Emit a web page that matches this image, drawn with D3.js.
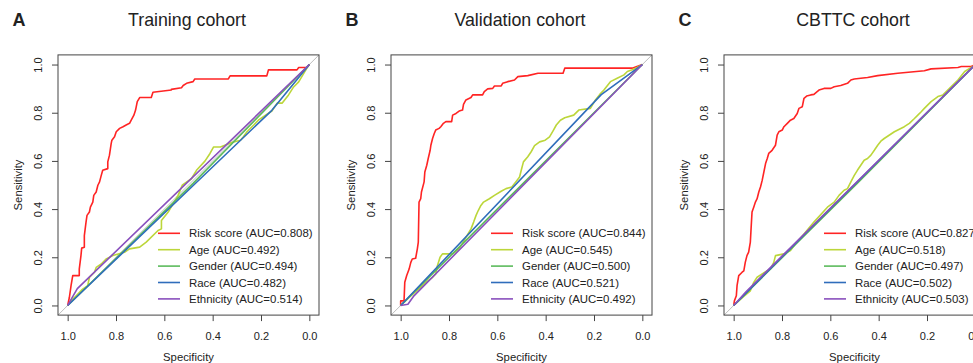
<!DOCTYPE html>
<html>
<head>
<meta charset="utf-8">
<script src="https://cdn.jsdelivr.net/npm/d3@7"></script>
<style>
  body { margin: 0; background: #fff; }
  text { font-family: "Liberation Sans", Arial, sans-serif; fill: #222; }
</style>
</head>
<body>
<svg id="chart"></svg>
<script>
// panel titles, letters, series
const titles = ["Training cohort", "Validation cohort", "CBTTC cohort"];
const letters = ["A", "B", "C"];
const seriesNames = ["Risk score", "Age", "Gender", "Race", "Ethnicity"];
const colors = ["#ff2424", "#bcd63a", "#5cba5c", "#2f6dbb", "#8950bd"];
const xTicks = [1.0, 0.8, 0.6, 0.4, 0.2, 0.0];
const yTicks = [0.0, 0.2, 0.4, 0.6, 0.8, 1.0];

const aucTrain = [0.808, 0.492, 0.494, 0.482, 0.514];
const aucValid = [0.844, 0.545, 0.500, 0.521, 0.492];
const aucCbttc = [0.827, 0.518, 0.497, 0.502, 0.503];

// ROC points as [specificity, sensitivity]
const trainRisk = [[1,0],[.993,.033],[.986,.082],[.979,.124],[.952,.124],[.952,.151],[.945,.207],[.942,.238],[.931,.242],[.931,.290],[.924,.346],[.920,.374],[.910,.388],[.906,.408],[.896,.429],[.892,.457],[.882,.471],[.875,.499],[.868,.513],[.861,.540],[.855,.561],[.834,.568],[.834,.596],[.827,.624],[.820,.672],[.817,.686],[.806,.700],[.799,.721],[.785,.735],[.771,.742],[.758,.749],[.744,.756],[.737,.769],[.726,.790],[.719,.811],[.712,.846],[.702,.863],[.654,.863],[.647,.885],[.571,.894],[.571,.897],[.529,.904],[.522,.913],[.508,.922],[.481,.929],[.474,.940],[.335,.940],[.328,.953],[.176,.953],[.169,.978],[.051,.978],[.044,.988],[.010,.988],[0,1]];
const trainAge = [[1,0],[.986,.019],[.965,.040],[.938,.068],[.917,.082],[.910,.117],[.889,.138],[.882,.158],[.861,.172],[.841,.193],[.813,.207],[.765,.221],[.744,.235],[.702,.242],[.675,.263],[.626,.311],[.612,.318],[.612,.353],[.584,.388],[.564,.422],[.543,.457],[.526,.499],[.488,.526],[.467,.561],[.432,.599],[.411,.631],[.396,.658],[.368,.658],[.321,.676],[.285,.686],[.273,.700],[.258,.721],[.230,.749],[.211,.769],[.181,.790],[.155,.807],[.133,.840],[.112,.840],[.086,.874],[.065,.907],[.044,.928],[.007,.990],[0,1]];
const trainGender = [[1,0],[.48,.508],[0,1]];
const trainRace = [[1,0],[.155,.81],[0,1]];
const trainEthnicity = [[1,0],[.96,.07],[0,1]];

const validRisk = [[1,0],[1,.019],[.986,.019],[.983,.096],[.975,.124],[.965,.151],[.958,.179],[.952,.193],[.938,.196],[.931,.235],[.927,.263],[.924,.429],[.917,.443],[.914,.471],[.903,.513],[.900,.554],[.892,.582],[.886,.610],[.878,.644],[.875,.665],[.868,.693],[.861,.714],[.855,.728],[.841,.735],[.834,.742],[.823,.756],[.813,.763],[.789,.763],[.785,.790],[.771,.797],[.758,.807],[.744,.811],[.740,.835],[.730,.853],[.709,.863],[.702,.874],[.661,.874],[.654,.888],[.640,.899],[.619,.901],[.612,.911],[.584,.911],[.578,.922],[.557,.929],[.529,.936],[.515,.950],[.474,.954],[.432,.964],[.328,.964],[.321,.985],[.042,.985],[0,1]];
const validAge = [[1,0],[.986,.013],[.965,.033],[.945,.051],[.917,.075],[.896,.096],[.868,.117],[.855,.131],[.848,.165],[.837,.200],[.827,.214],[.785,.214],[.758,.235],[.730,.283],[.709,.318],[.698,.346],[.688,.374],[.679,.394],[.668,.415],[.657,.429],[.633,.443],[.612,.457],[.584,.474],[.564,.485],[.540,.492],[.522,.515],[.508,.533],[.501,.561],[.492,.596],[.474,.617],[.460,.638],[.446,.663],[.425,.679],[.402,.686],[.384,.700],[.370,.724],[.356,.749],[.339,.769],[.321,.779],[.284,.790],[.263,.811],[.215,.818],[.194,.853],[.176,.876],[.159,.894],[.132,.929],[.104,.943],[.076,.957],[.062,.971],[.042,.978],[.021,.988],[0,1]];
const validGender = [[1,0],[.52,.48],[0,1]];
const validRace = [[1,0],[.17,.875],[0,1]];
const validEthnicity = [[1,0],[.97,.005],[.945,.04],[0,1]];

const cbttcRisk = [[1,0],[.997,.019],[.989,.040],[.986,.082],[.979,.124],[.965,.138],[.958,.144],[.952,.179],[.945,.207],[.938,.221],[.931,.263],[.928,.318],[.924,.388],[.917,.408],[.910,.429],[.903,.443],[.896,.471],[.889,.492],[.882,.519],[.875,.554],[.868,.589],[.861,.610],[.855,.631],[.841,.644],[.827,.665],[.820,.707],[.813,.721],[.799,.728],[.792,.742],[.778,.756],[.765,.769],[.751,.776],[.737,.797],[.730,.818],[.716,.825],[.709,.860],[.698,.869],[.681,.874],[.668,.876],[.647,.894],[.626,.901],[.598,.901],[.584,.908],[.557,.913],[.529,.922],[.515,.936],[.501,.940],[.474,.943],[.446,.946],[.404,.954],[.321,.964],[.211,.974],[.183,.982],[.072,.988],[.058,.992],[.017,.992],[0,1]];
const cbttcAge = [[1,0],[.979,.019],[.958,.038],[.931,.061],[.917,.096],[.903,.117],[.882,.131],[.861,.144],[.848,.151],[.834,.179],[.827,.207],[.792,.214],[.765,.228],[.744,.256],[.709,.297],[.668,.346],[.612,.408],[.584,.429],[.564,.457],[.543,.478],[.529,.485],[.515,.513],[.501,.540],[.488,.561],[.474,.582],[.460,.603],[.446,.610],[.432,.624],[.418,.644],[.404,.665],[.391,.682],[.377,.693],[.335,.721],[.294,.742],[.273,.756],[.252,.776],[.238,.790],[.224,.804],[.211,.818],[.183,.846],[.155,.867],[.134,.874],[.072,.936],[.044,.971],[.010,.992],[0,1]];
const cbttcGender = [[1,0],[.49,.505],[0,1]];
const cbttcRace = [[1,0],[.70,.302],[0,1]];
const cbttcEthnicity = [[1,0],[.95,.056],[0,1]];

const panelData = [
  { auc: aucTrain, curves: [trainRisk, trainAge, trainGender, trainRace, trainEthnicity] },
  { auc: aucValid, curves: [validRisk, validAge, validGender, validRace, validEthnicity] },
  { auc: aucCbttc, curves: [cbttcRisk, cbttcAge, cbttcGender, cbttcRace, cbttcEthnicity] }
];

const width = 973, height = 363;
const svg = d3.select("#chart").attr("width", width).attr("height", height);

const boxW = 261, boxTop = 54.9, boxBottom = 315.1;
const y = d3.scaleLinear().domain([-0.04, 1.04]).range([boxBottom, boxTop]);

panelData.forEach((p, i) => {
  const left = 58 + i * 333;
  const x = d3.scaleLinear().domain([1.04, -0.04]).range([left, left + boxW]);
  const g = svg.append("g");

  // panel letter and title
  g.append("text").attr("x", left - 45.5).attr("y", 26)
    .style("font-size", "18px").style("font-weight", "bold").text(letters[i]);
  g.append("text").attr("x", left + boxW / 2 - 1.5).attr("y", 26)
    .attr("text-anchor", "middle").style("font-size", "17.8px").text(titles[i]);

  // diagonal reference
  g.append("line")
    .attr("x1", x(1.04)).attr("y1", y(-0.04))
    .attr("x2", x(-0.04)).attr("y2", y(1.04))
    .attr("stroke", "#bdbdbd").attr("stroke-width", 1);

  // ROC curves
  const line = d3.line().x(d => x(d[0])).y(d => y(d[1]));
  p.curves.forEach((c, k) => {
    g.append("path").datum(c)
      .attr("d", line)
      .attr("fill", "none")
      .attr("stroke", colors[k])
      .attr("stroke-width", 1.6)
      .attr("stroke-linejoin", "round");
  });

  // box
  g.append("rect")
    .attr("x", left).attr("y", boxTop)
    .attr("width", boxW).attr("height", boxBottom - boxTop)
    .attr("fill", "none").attr("stroke", "#444").attr("stroke-width", 1);

  // axes
  const xAxis = g.append("g").attr("transform", `translate(0,${boxBottom})`)
    .call(d3.axisBottom(x).tickValues(xTicks).tickFormat(d3.format(".1f")).tickSize(6).tickPadding(4));
  xAxis.select(".domain").remove();
  xAxis.selectAll("line").attr("stroke", "#444");
  xAxis.selectAll("text").attr("fill", "#222").style("font-size", "11px")
    .attr("y", 25).attr("dy", null);

  const yAxis = g.append("g").attr("transform", `translate(${left},0)`)
    .call(d3.axisLeft(y).tickValues(yTicks).tickFormat(d3.format(".1f")).tickSize(6));
  yAxis.select(".domain").remove();
  yAxis.selectAll("line").attr("stroke", "#444");
  yAxis.selectAll("text").attr("fill", "#222").style("font-size", "11px")
    .attr("x", 0).attr("dy", null).attr("text-anchor", "middle")
    .attr("dominant-baseline", "central")
    .attr("transform", "translate(-20,0) rotate(-90)");

  g.append("text").attr("x", left + boxW / 2).attr("y", 360.5)
    .attr("text-anchor", "middle").style("font-size", "11.3px").text("Specificity");
  g.append("text")
    .attr("transform", `translate(${left - 40},${(boxTop + boxBottom) / 2}) rotate(-90)`)
    .attr("text-anchor", "middle").attr("dominant-baseline", "central")
    .style("font-size", "11.3px").text("Sensitivity");

  // legend
  const lg = g.append("g").attr("transform", `translate(${left + 100},233.3)`);
  seriesNames.forEach((name, k) => {
    const row = lg.append("g").attr("transform", `translate(0,${k * 16.4})`);
    row.append("line").attr("x1", 0).attr("x2", 22)
      .attr("stroke", colors[k]).attr("stroke-width", 1.6);
    row.append("text").attr("x", 31).attr("dominant-baseline", "central")
      .style("font-size", "11.45px")
      .text(`${name} (AUC=${d3.format(".3f")(p.auc[k])})`);
  });
});
</script>
</body>
</html>
